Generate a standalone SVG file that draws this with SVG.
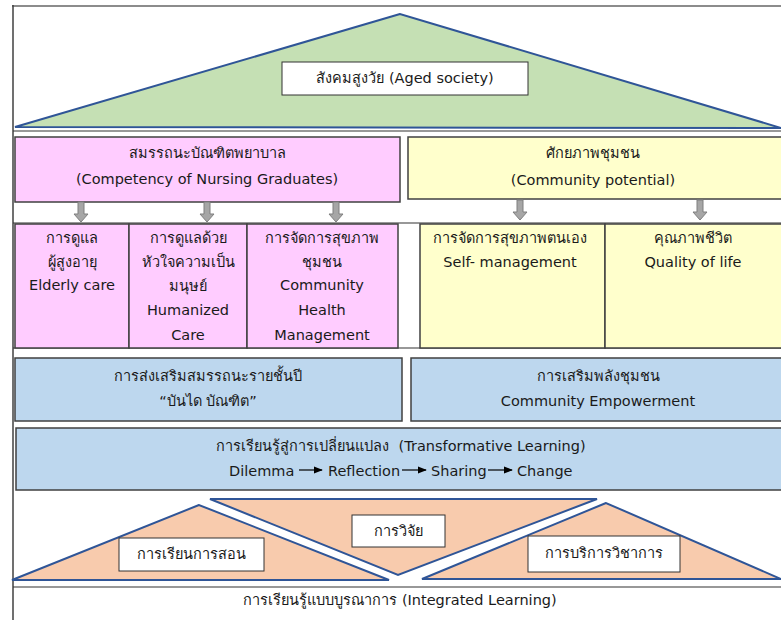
<svg xmlns="http://www.w3.org/2000/svg" width="781" height="620" viewBox="0 0 781 620">
<defs>
<style>
.t{font-family:"DejaVu Sans","Noto Sans",sans-serif;font-size:14.5px;fill:#1a1a1a;text-anchor:middle}
.s{text-anchor:start}
.box{stroke:#404040;stroke-width:1.5}
.pink{fill:#FFCCFF}
.yel{fill:#FFFFCC}
.blue{fill:#BDD7EE}
.tri{stroke:#2F5597;stroke-width:2;stroke-linejoin:miter}
.lbl{fill:#fff;stroke:#333;stroke-width:1}
.ln{stroke:#333;stroke-width:1.2;fill:none}
.arr{fill:#A6A6A6;stroke:#7F7F7F;stroke-width:1}
.sa{stroke:#000;stroke-width:1.2}
</style>
<marker id="ah" viewBox="0 0 10 10" refX="9" refY="5" markerWidth="9" markerHeight="9" markerUnits="userSpaceOnUse" orient="auto">
<path d="M0,1 L10,5 L0,9 z" fill="#000"/>
</marker>
<path id="blk" d="M-3,0 H3 V12 H7 L0,20 L-7,12 H-3 Z"/>
</defs>
<rect width="781" height="620" fill="#fff"/>
<g id="frame">
<line x1="12" y1="6" x2="781" y2="6" stroke="#8c8c8c" stroke-width="2"/>
<line x1="13" y1="5" x2="13" y2="620" stroke="#404040" stroke-width="1.5"/>
<line x1="13" y1="131" x2="781" y2="131" class="ln"/>
<line x1="13" y1="223" x2="781" y2="223" class="ln"/>
<line x1="13" y1="348" x2="781" y2="348" class="ln"/>
<line x1="13" y1="587" x2="781" y2="587" class="ln"/>
</g>
<g id="aged-society">
<polygon class="tri" points="400,14 15,127 781,128" fill="#C5E0B4"/>
<rect class="lbl" x="282" y="62" width="246" height="33"/>
<text class="t" x="405" y="83">สังคมสูงวัย (Aged society)</text>
</g>
<g id="competency">
<rect class="box pink" x="15" y="137" width="385" height="65"/>
<text class="t" x="207" y="158">สมรรถนะบัณฑิตพยาบาล</text>
<text class="t" x="207" y="184">(Competency of Nursing Graduates)</text>
</g>
<g id="community-potential">
<rect class="box yel" x="408" y="137" width="380" height="62"/>
<text class="t" x="593" y="158">ศักยภาพชุมชน</text>
<text class="t" x="593" y="185">(Community potential)</text>
</g>
<g id="elderly-care">
<rect class="box pink" x="15" y="224" width="114" height="124"/>
<text class="t" x="72" y="243">การดูแล</text>
<text class="t" x="72" y="267">ผู้สูงอายุ</text>
<text class="t" x="72" y="290">Elderly care</text>
</g>
<g id="humanized-care">
<rect class="box pink" x="129" y="224" width="118" height="124"/>
<text class="t" x="188" y="243">การดูแลด้วย</text>
<text class="t" x="188" y="267">หัวใจความเป็น</text>
<text class="t" x="188" y="291">มนุษย์</text>
<text class="t" x="188" y="315">Humanized</text>
<text class="t" x="188" y="340">Care</text>
</g>
<g id="community-health">
<rect class="box pink" x="247" y="224" width="151" height="124"/>
<text class="t" x="322" y="243">การจัดการสุขภาพ</text>
<text class="t" x="322" y="267">ชุมชน</text>
<text class="t" x="322" y="290">Community</text>
<text class="t" x="322" y="315">Health</text>
<text class="t" x="322" y="340">Management</text>
</g>
<g id="self-management">
<rect class="box yel" x="420" y="224" width="185" height="124"/>
<text class="t" x="510" y="243">การจัดการสุขภาพตนเอง</text>
<text class="t" x="510" y="267">Self- management</text>
</g>
<g id="quality-of-life">
<rect class="box yel" x="605" y="224" width="183" height="124"/>
<text class="t" x="693" y="243">คุณภาพชีวิต</text>
<text class="t" x="693" y="267">Quality of life</text>
</g>
<g id="ladder">
<rect class="box blue" x="15" y="358" width="387" height="63"/>
<text class="t" x="208" y="381">การส่งเสริมสมรรถนะรายชั้นปี</text>
<text class="t" x="208" y="406">“บันได บัณฑิต”</text>
</g>
<g id="empowerment">
<rect class="box blue" x="411" y="358" width="377" height="63"/>
<text class="t" x="598" y="381">การเสริมพลังชุมชน</text>
<text class="t" x="598" y="406">Community Empowerment</text>
</g>
<g id="transformative">
<rect class="box blue" x="16" y="428" width="772" height="62"/>
<text class="t" x="401" y="451">การเรียนรู้สู่การเปลี่ยนแปลง&#160; (Transformative Learning)</text>
<text class="t s" x="229" y="476">Dilemma</text>
<text class="t s" x="328" y="476">Reflection</text>
<text class="t s" x="431" y="476">Sharing</text>
<text class="t s" x="517" y="476">Change</text>
</g>
<g id="teaching">
<polygon class="tri" points="199,505 12,580 389,580" fill="#F8CBAD"/>
<rect class="lbl" x="119" y="538" width="145" height="33"/>
<text class="t" x="191" y="559">การเรียนการสอน</text>
</g>
<g id="research">
<polygon class="tri" points="210,499 597,499 398,575" fill="#F8CBAD"/>
<rect class="lbl" x="352" y="515" width="93" height="32"/>
<text class="t" x="398" y="536">การวิจัย</text>
</g>
<g id="service">
<polygon class="tri" points="606,503 422,579 781,579" fill="#F8CBAD"/>
<rect class="lbl" x="528" y="536" width="152" height="36"/>
<text class="t" x="604" y="558">การบริการวิชาการ</text>
</g>
<g id="integrated">
<text class="t" x="400" y="605">การเรียนรู้แบบบูรณาการ (Integrated Learning)</text>
</g>
<g id="connectors">
<use href="#blk" class="arr" x="81" y="202"/>
<use href="#blk" class="arr" x="207" y="202"/>
<use href="#blk" class="arr" x="336" y="202"/>
<use href="#blk" class="arr" x="520" y="200"/>
<use href="#blk" class="arr" x="700" y="200"/>
<line class="sa" x1="299" y1="470" x2="322" y2="470" marker-end="url(#ah)"/>
<line class="sa" x1="402" y1="470" x2="426" y2="470" marker-end="url(#ah)"/>
<line class="sa" x1="488" y1="470" x2="512" y2="470" marker-end="url(#ah)"/>
</g>
</svg>
